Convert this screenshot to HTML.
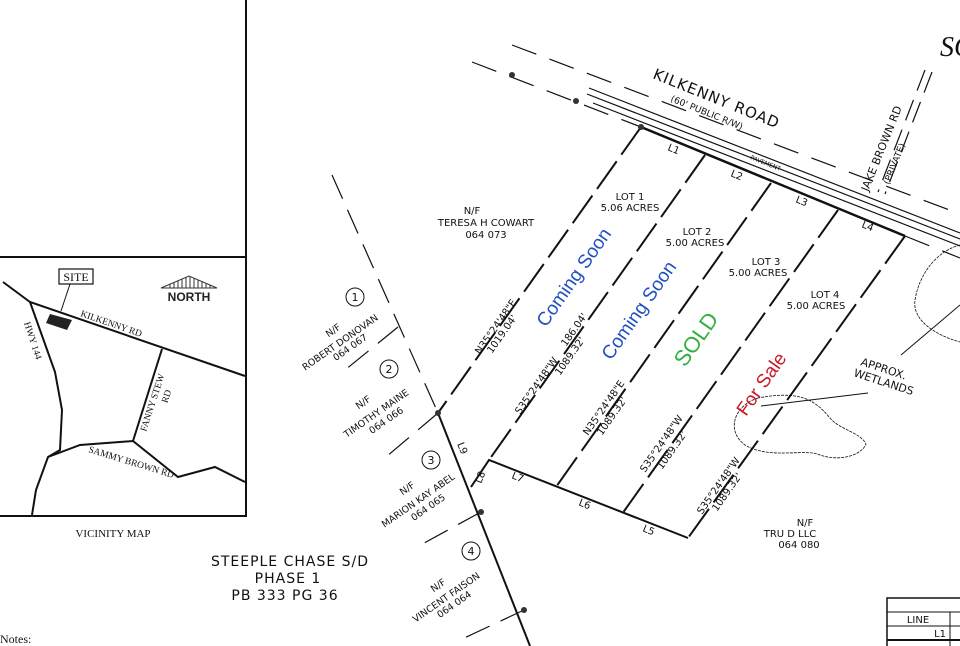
<!DOCTYPE html>
<html><head><meta charset="utf-8"><style>
html,body{margin:0;padding:0;background:#fff;}
svg{display:block;}
.t{font-family:"DejaVu Sans","Liberation Sans",sans-serif;fill:#111;}
.s{font-family:"Liberation Serif",serif;fill:#111;}
</style></head><body>
<svg width="960" height="646" viewBox="0 0 960 646" font-size="10" xmlns="http://www.w3.org/2000/svg">
<g stroke="#111" fill="none">
<line x1="246" y1="0" x2="246" y2="517" stroke-width="2"/>
<line x1="0" y1="257" x2="246" y2="257" stroke-width="2"/>
<line x1="0" y1="516" x2="246" y2="516" stroke-width="2"/>
<polyline points="3,282 30,302 245,376" stroke-width="2"/>
<polyline points="30,302 55,372 62,410 60,450 48,457 36,490 32,515" stroke-width="2"/>
<line x1="162" y1="349" x2="133" y2="441" stroke-width="2"/>
<polyline points="48,457 80,445 133,441 178,477 215,467 245,482" stroke-width="2"/>
<line x1="70" y1="284" x2="61" y2="311" stroke-width="1"/>
<rect x="59" y="269" width="34" height="15" stroke-width="1.2"/>
</g>
<polygon points="50,314 72,320 67,330 46,323" fill="#222"/>
<polygon points="161,288 189,276 217,288" fill="none" stroke="#333" stroke-width="1"/>
<g stroke="#333" stroke-width="1">
<line x1="170" y1="284" x2="170" y2="288"/><line x1="174" y1="282" x2="174" y2="288"/><line x1="178" y1="281" x2="178" y2="288"/><line x1="182" y1="279" x2="182" y2="288"/><line x1="186" y1="277" x2="186" y2="288"/><line x1="190" y1="277" x2="190" y2="288"/><line x1="194" y1="278" x2="194" y2="288"/><line x1="198" y1="280" x2="198" y2="288"/><line x1="202" y1="282" x2="202" y2="288"/><line x1="206" y1="283" x2="206" y2="288"/><line x1="210" y1="285" x2="210" y2="288"/>
</g>
<text x="189" y="301" text-anchor="middle" style="font-family:'Liberation Sans',sans-serif;font-weight:bold;font-size:12px" fill="#222">NORTH</text>
<text x="76" y="281" text-anchor="middle" class="s" font-size="12">SITE</text>
<text x="80" y="316" class="s" font-size="9.5" transform="rotate(19 80 316)">KILKENNY RD</text>
<text x="24" y="323" class="s" font-size="9.5" transform="rotate(72 24 323)">HWY 144</text>
<text x="146" y="432" class="s" font-size="9.5" transform="rotate(-72 146 432)">FANNY STEW</text>
<text x="158" y="432" class="s" font-size="9.5" transform="rotate(-72 158 432) translate(30 0)">RD</text>
<text x="88" y="452" class="s" font-size="9.5" transform="rotate(17 88 452)">SAMMY BROWN RD</text>
<text x="113" y="537" text-anchor="middle" class="s" font-size="11">VICINITY MAP</text>
<text x="0" y="643" class="s" font-size="12">Notes:</text>
<text x="940" y="56" class="s" font-size="28" font-style="italic">SC</text>

<g stroke="#111" fill="none">
<line x1="512" y1="45" x2="960" y2="214" stroke-dasharray="26,14" stroke-width="1.2"/>
<line x1="472" y1="62" x2="641" y2="127" stroke-dasharray="26,14" stroke-width="1.2"/>
<line x1="589" y1="88" x2="960" y2="233" stroke-width="1.2"/>
<line x1="587" y1="94" x2="960" y2="239" stroke-width="1.2"/>
<line x1="593" y1="103" x2="960" y2="246" stroke-width="1.2"/>
<line x1="641" y1="127" x2="905" y2="236" stroke-width="2.5"/>
<line x1="905" y1="236" x2="960" y2="258" stroke-dasharray="26,14" stroke-width="1.2"/>
<line x1="925" y1="70" x2="878" y2="192" stroke-width="1.2" stroke-dasharray="22,10"/>
<line x1="932" y1="72" x2="885" y2="194" stroke-width="1.2" stroke-dasharray="22,10"/>
<g stroke-width="2" stroke-dasharray="34,8">
<line x1="641" y1="127" x2="438" y2="413"/>
<line x1="705" y1="155" x2="489" y2="460"/>
<line x1="771" y1="183" x2="556" y2="487"/>
<line x1="838" y1="210" x2="622" y2="514"/>
<line x1="905" y1="236" x2="688" y2="538"/>
</g>
<polyline points="471,487 489,460 688,538" stroke-width="2"/>
<line x1="438" y1="413" x2="530" y2="646" stroke-width="2"/>
<g stroke-width="1.2" stroke-dasharray="26,12">
<line x1="332" y1="175" x2="438" y2="413"/>
<line x1="398" y1="327" x2="345" y2="370"/>
<line x1="438" y1="413" x2="380" y2="462"/>
<line x1="481" y1="512" x2="415" y2="548"/>
<line x1="524" y1="610" x2="460" y2="640"/>
</g>
<path d="M758,398 C735,405 725,430 745,445 C770,460 805,448 820,455 C840,462 862,455 866,444 C860,432 840,430 830,418 C815,400 800,390 758,398Z" stroke-width="0.8" stroke-dasharray="3,1"/>
<path d="M960,245 C940,250 920,270 915,300 C912,320 935,335 960,342" stroke-width="0.8" stroke-dasharray="3,1"/>
<line x1="761" y1="406" x2="868" y2="393" stroke-width="1"/>
<line x1="901" y1="355" x2="960" y2="305" stroke-width="1"/>
</g>
<g fill="#333">
<circle cx="512" cy="75" r="3"/><circle cx="576" cy="101" r="3"/><circle cx="641" cy="127" r="3"/>
<circle cx="438" cy="413" r="3"/><circle cx="481" cy="512" r="3"/><circle cx="524" cy="610" r="3"/>
</g>
<text x="652" y="78" class="t" font-size="15" transform="rotate(22 652 78)" letter-spacing="1">KILKENNY ROAD</text>
<text x="670" y="101" class="t" font-size="9" transform="rotate(22 670 101)">(60' PUBLIC R/W)</text>
<text x="750" y="159" class="t" font-size="6" transform="rotate(22 750 159)">PAVEMENT</text>
<text x="868" y="192" class="t" font-size="11" transform="rotate(-68 868 192)">JAKE BROWN RD</text>
<text x="889" y="185" class="t" font-size="9" transform="rotate(-68 889 185)">(PRIVATE)</text>
<text x="667" y="150" class="t" transform="rotate(22 667 150)">L1</text>
<text x="730" y="176" class="t" transform="rotate(22 730 176)">L2</text>
<text x="795" y="202" class="t" transform="rotate(22 795 202)">L3</text>
<text x="861" y="227" class="t" transform="rotate(22 861 227)">L4</text>
<g class="t" text-anchor="middle">
<text x="630" y="200">LOT 1</text><text x="630" y="211">5.06 ACRES</text>
<text x="697" y="235">LOT 2</text><text x="695" y="246">5.00 ACRES</text>
<text x="766" y="265">LOT 3</text><text x="758" y="276">5.00 ACRES</text>
<text x="825" y="298">LOT 4</text><text x="816" y="309">5.00 ACRES</text>
<text x="472" y="214">N/F</text><text x="486" y="226">TERESA H COWART</text><text x="486" y="238">064 073</text>
<text x="805" y="526">N/F</text><text x="790" y="537">TRU D LLC</text><text x="799" y="548">064 080</text>
</g>
<text x="860" y="365" class="t" font-size="11" transform="rotate(18 860 365)">APPROX.</text>
<text x="853" y="376" class="t" font-size="11" transform="rotate(18 853 376)">WETLANDS</text>
<g style="font-family:'Liberation Sans',sans-serif" font-size="19">
<text x="546" y="328" fill="#1f4fc0" transform="rotate(-55 546 328)">Coming Soon</text>
<text x="611" y="361" fill="#1f4fc0" transform="rotate(-55 611 361)">Coming Soon</text>
<text x="685" y="368" fill="#33b040" font-size="22" transform="rotate(-55 685 368)">SOLD</text>
<text x="746" y="417" fill="#c81b2a" transform="rotate(-55 746 417)">For Sale</text>
</g>
<g class="t" font-size="10">
<text x="480" y="355" transform="rotate(-55 480 355)">N35°24'48"E</text>
<text x="492" y="354" transform="rotate(-55 492 354)">1019.04'</text>
<text x="520" y="415" transform="rotate(-55 520 415)">S35°24'48"W</text>
<text x="566" y="347" transform="rotate(-55 566 347)">186.04'</text>
<text x="560" y="376" transform="rotate(-55 560 376)">1089.32'</text>
<text x="588" y="436" transform="rotate(-55 588 436)">N35°24'48"E</text>
<text x="602" y="436" transform="rotate(-55 602 436)">1089.32'</text>
<text x="645" y="473" transform="rotate(-55 645 473)">S35°24'48"W</text>
<text x="662" y="470" transform="rotate(-55 662 470)">1089.32'</text>
<text x="702" y="515" transform="rotate(-55 702 515)">S35°24'48"W</text>
<text x="717" y="512" transform="rotate(-55 717 512)">1089.32'</text>
<text x="457" y="444" transform="rotate(68 457 444)">L9</text>
<text x="481" y="484" transform="rotate(-68 481 484)">L8</text>
<text x="511" y="478" transform="rotate(22 511 478)">L7</text>
<text x="578" y="505" transform="rotate(22 578 505)">L6</text>
<text x="642" y="531" transform="rotate(22 642 531)">L5</text>
</g>
<g stroke="#111" fill="none" stroke-width="1"><circle cx="355" cy="297" r="9"/><circle cx="389" cy="369" r="9"/><circle cx="431" cy="460" r="9"/><circle cx="471" cy="551" r="9"/></g>
<g class="t" text-anchor="middle" font-size="11">
<text x="355" y="301">1</text><text x="389" y="373">2</text><text x="431" y="464">3</text><text x="471" y="555">4</text>
</g>
<g class="t" text-anchor="middle" font-size="9.5">
<text x="335" y="333" transform="rotate(-35 335 333)">N/F</text>
<text x="342" y="345" transform="rotate(-35 342 345)">ROBERT DONOVAN</text>
<text x="352" y="350" transform="rotate(-35 352 350)">064 067</text>
<text x="365" y="405" transform="rotate(-35 365 405)">N/F</text>
<text x="378" y="416" transform="rotate(-35 378 416)">TIMOTHY MAINE</text>
<text x="388" y="423" transform="rotate(-35 388 423)">064 066</text>
<text x="409" y="491" transform="rotate(-35 409 491)">N/F</text>
<text x="420" y="503" transform="rotate(-35 420 503)">MARION KAY ABEL</text>
<text x="430" y="510" transform="rotate(-35 430 510)">064 065</text>
<text x="440" y="588" transform="rotate(-35 440 588)">N/F</text>
<text x="448" y="600" transform="rotate(-35 448 600)">VINCENT FAISON</text>
<text x="456" y="607" transform="rotate(-35 456 607)">064 064</text>
</g>
<g class="t" font-size="14" text-anchor="middle" letter-spacing="1">
<text x="290" y="566">STEEPLE CHASE S/D</text>
<text x="288" y="583">PHASE 1</text>
<text x="285" y="600">PB 333 PG 36</text>
</g>
<g stroke="#111" fill="none">
<polyline points="960,598 887,598 887,646" stroke-width="1.5"/>
<line x1="887" y1="612" x2="960" y2="612"/>
<line x1="887" y1="626" x2="960" y2="626"/>
<line x1="887" y1="640" x2="960" y2="640" stroke-width="2"/>
<line x1="950" y1="612" x2="950" y2="646"/>
</g>
<text x="918" y="623" class="t" text-anchor="middle">LINE</text>
<text x="946" y="637" class="t" text-anchor="end">L1</text>
</svg>
</body></html>
